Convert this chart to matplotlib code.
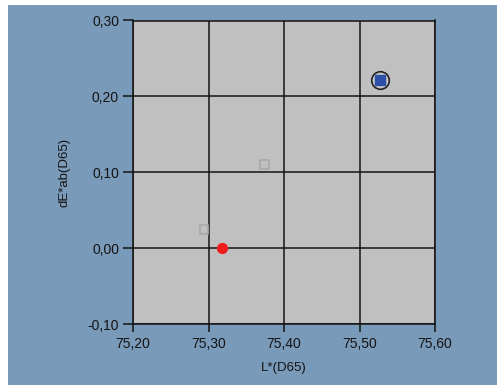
import matplotlib.pyplot as plt
from matplotlib.patches import Rectangle
from matplotlib.ticker import FuncFormatter

# data
ref_L = [75.318]
ref_dE = [0.0]
trial_L = [75.294, 75.374]
trial_dE = [0.025, 0.110]
current_L = [75.527]
current_dE = [0.221]

x_ticks = [75.20, 75.30, 75.40, 75.50, 75.60]
y_ticks = [-0.10, 0.00, 0.10, 0.20, 0.30]

plt.rcParams['font.family'] = ['Liberation Sans', 'DejaVu Sans']

W, H = 497, 385
fig = plt.figure(figsize=(W / 100, H / 100), dpi=100, facecolor='white')
# blue panel with a thin white margin left/top
fig.patches.append(Rectangle((8 / W, 0), 1 - 8 / W, 1 - 5 / H,
                             transform=fig.transFigure, facecolor='#7a9aba',
                             edgecolor='none', zorder=-10))

ax = fig.add_axes([133 / W, 1 - 324 / H, 302 / W, 303.5 / H])
ax.set_zorder(5)
ax.set_facecolor('#c0c0c0')
ax.set_xlim(75.20, 75.60)
ax.set_ylim(-0.10, 0.30)
ax.set_xticks(x_ticks)
ax.set_yticks(y_ticks)
comma = lambda fmt: FuncFormatter(lambda v, p: (fmt % v).replace('.', ','))
ax.xaxis.set_major_formatter(comma('%.2f'))
ax.yaxis.set_major_formatter(comma('%.2f'))
ax.grid(True, color='#141414', linewidth=1.1)
ax.set_axisbelow(True)
for s in ax.spines.values():
    s.set_color('#141414')
    s.set_linewidth(1.1)
ax.tick_params(axis='y', direction='out', length=7, width=1.1, color='#141414',
               labelsize=10, labelcolor='#141414', pad=3)
ax.tick_params(axis='x', direction='out', length=6, width=1.1, color='#141414',
               labelsize=10, labelcolor='#141414', pad=3)

ax.scatter(trial_L, trial_dE, marker='s', s=40, facecolor='none',
           edgecolor='#a8a8a8', linewidth=1.2, zorder=3)
ax.scatter(ref_L, ref_dE, marker='o', s=50, color='#f01c1c', zorder=3)
ax.scatter(current_L, current_dE, marker='o', s=160, facecolor='#c8c8c8',
           edgecolor='#222222', linewidth=1.2, zorder=3)
ax.scatter(current_L, current_dE, marker='s', s=55, color='#2c4fa8', zorder=4)

ax.set_xlabel('L*(D65)', fontsize=9.5, color='#141414', labelpad=8)
ax.set_ylabel('dE*ab(D65)', fontsize=9.5, color='#141414', labelpad=12)

fig.savefig('out.png', dpi=100, facecolor=fig.get_facecolor())
